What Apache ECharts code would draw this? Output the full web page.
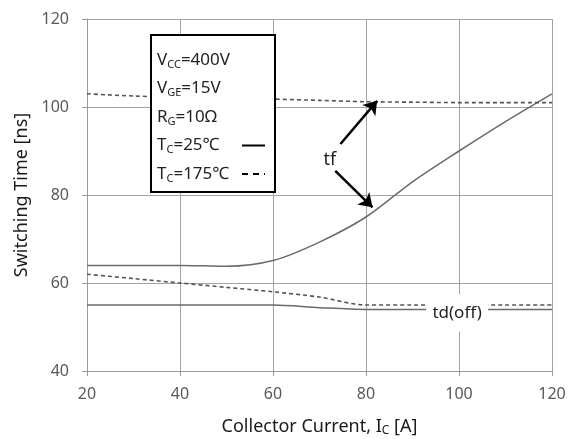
<!DOCTYPE html>
<html><head><meta charset="utf-8">
<script src="https://cdn.jsdelivr.net/npm/echarts@6/dist/echarts.min.js"></script>
<style>html,body{margin:0;padding:0;background:#fff}#c{width:569px;height:439px}</style>
</head><body><div id="c"></div>
<script>
const xValues = [20,30,40,50,60,70,80,90,100,110,120];
const tf25  = [64,64,64,63.8,65.1,69.3,75,83,90,96.7,103];
const tf175 = [103,102.5,102.2,102,101.8,101.5,101.2,101.1,101,101,101];
const td25  = [55,55,55,55,55,54.4,54,54,54,54,54];
const td175 = [62,61,60,59,58,56.8,55,55,55,55,55];
const xTickLabels = ['20','40','60','80','100','120'];
const yTickLabels = ['40','60','80','100','120'];
const legendLines = ['V{s|CC}=400V','V{s|GE}=15V','R{s|G}=10Ω','T{s|C}=25℃','T{s|C}=175℃'];
const tfLabel = 'tf';
const tdLabel = 'td(off)';

const FONT = 'Noto Sans';
const pair = arr => xValues.map((x,i)=>[x,arr[i]]);
const chart = echarts.init(document.getElementById('c'), null, {renderer:'canvas'});
const lineCol = '#6a6a6a';
function mkSeries(name, arr, dashed){
  return {name, type:'line', data:pair(arr), smooth:0.3, showSymbol:false,
    symbol:'none', z:3, silent:true,
    lineStyle:{color:dashed?'#555':lineCol, width:dashed?1.6:1.5, type:dashed?[4,3]:'solid'}};
}
const legendTop = 60, legendStep = 28.5;
const legendGraphics = [
  {type:'rect', shape:{x:151,y:35,width:124,height:157}, style:{fill:'#fff', stroke:'#000', lineWidth:2}, z:100}
];
legendLines.forEach((t,i)=>{
  legendGraphics.push({type:'text', x:157, y:legendTop+legendStep*i, z:101,
    style:{text:t, fill:'#222', font:'17px "'+FONT+'"', verticalAlign:'middle',
      rich:{s:{fontSize:11, padding:[9,0,0,0], fontFamily:FONT, fill:'#222'}}}});
});
legendGraphics.push({type:'line', shape:{x1:242,y1:legendTop+legendStep*3,x2:265,y2:legendTop+legendStep*3}, style:{stroke:'#000',lineWidth:2}, z:101});
legendGraphics.push({type:'line', shape:{x1:242,y1:legendTop+legendStep*4,x2:265,y2:legendTop+legendStep*4}, style:{stroke:'#000',lineWidth:2,lineDash:[6,5]}, z:101});

chart.setOption({
  animation:false,
  backgroundColor:'#fff',
  textStyle:{fontFamily:FONT},
  grid:{left:87, right:17, top:19, bottom:68, containLabel:false, outerBoundsMode:'none'},
  xAxis:{type:'value', min:20, max:120, interval:20,
    name:'Collector Current, I{s|C} [A]', nameLocation:'middle', nameGap:45,
    nameTextStyle:{color:'#1a1a1a', fontSize:18, fontFamily:FONT,
      rich:{s:{fontSize:12, padding:[9,0,0,0], color:'#1a1a1a', fontFamily:FONT}}},
    axisLine:{show:true, lineStyle:{color:'#9a9a9a', width:1}},
    axisTick:{show:true, length:5, lineStyle:{color:'#9a9a9a'}},
    axisLabel:{color:'#595959', fontSize:16, margin:15, fontFamily:FONT,
      formatter:v=>xTickLabels[Math.round((v-20)/20)]},
    splitLine:{show:true, lineStyle:{color:'#a3a3a3', width:1}}},
  yAxis:{type:'value', min:40, max:120, interval:20,
    name:'Switching Time [ns]', nameLocation:'middle', nameGap:56, nameRotate:90,
    nameTextStyle:{color:'#1a1a1a', fontSize:18, fontFamily:FONT},
    axisLine:{show:true, lineStyle:{color:'#9a9a9a', width:1}},
    axisTick:{show:true, length:5, lineStyle:{color:'#9a9a9a'}},
    axisLabel:{color:'#595959', fontSize:16, margin:18, fontFamily:FONT,
      formatter:v=>yTickLabels[Math.round((v-40)/20)]},
    splitLine:{show:true, lineStyle:{color:'#a3a3a3', width:1}}},
  series:[
    mkSeries('tf 25', tf25, false),
    mkSeries('tf 175', tf175, true),
    mkSeries('td 25', td25, false),
    mkSeries('td 175', td175, true),
    {type:'line', data:[], z:10, silent:true,
      markLine:{silent:true, symbol:['none','arrow'], symbolSize:13, animation:false,
        label:{show:false}, lineStyle:{color:'#000', width:2.5, type:'solid'},
        emphasis:{disabled:true},
        data:[[{coord:[74.5,91.6]},{coord:[82.4,101.4]}],[{coord:[73.4,85.5]},{coord:[81.4,77.2]}]]},
      markPoint:{silent:true, animation:false,
        data:[
          {coord:[72.2,88], symbol:'rect', symbolSize:0,
            label:{show:true, position:'inside', formatter:tfLabel, color:'#222', fontSize:18, fontFamily:FONT}},
          {coord:[99.6,53.2], symbol:'rect', symbolSize:[62,37], itemStyle:{color:'#fff'},
            label:{show:true, position:'inside', formatter:tdLabel, color:'#222', fontSize:17, fontFamily:FONT}}
        ]}}
  ],
  graphic:legendGraphics
});
</script></body></html>
